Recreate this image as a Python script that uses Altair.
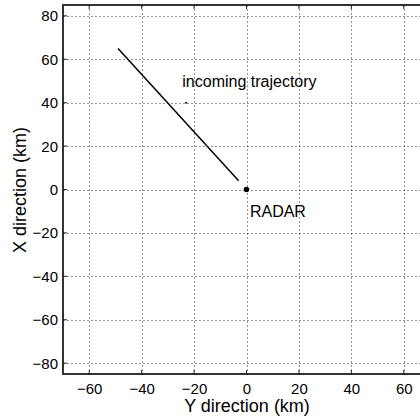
import altair as alt
import pandas as pd

# ---- data ----
traj_ydir = [-49, -3]          # horizontal axis: Y direction (km)
traj_xdir = [65, 4]            # vertical axis: X direction (km)
radar_ydir = [0]
radar_xdir = [0]
dot_ydir = [-23]
dot_xdir = [40]
label_text = ["incoming trajectory", "RADAR"]
label_ydir = [-24.5, 1.3]
label_xdir = [47.3, -12.6]
x_ticks = [-60, -40, -20, 0, 20, 40, 60]
y_ticks = [-80, -60, -40, -20, 0, 20, 40, 60, 80]
x_domain = [-70, 70]
y_domain = [-85, 85]

FONT = "Liberation Sans"
W, H = 367, 369

traj = pd.DataFrame({"ydir": traj_ydir, "xdir": traj_xdir})
radar = pd.DataFrame({"ydir": radar_ydir, "xdir": radar_xdir})
dot = pd.DataFrame({"ydir": dot_ydir, "xdir": dot_xdir})
labels = pd.DataFrame({"ydir": label_ydir, "xdir": label_xdir, "text": label_text})
xt = pd.DataFrame({"ydir": x_ticks})
yt = pd.DataFrame({"xdir": y_ticks})

xs = alt.Scale(domain=x_domain, nice=False, zero=False)
ys = alt.Scale(domain=y_domain, nice=False, zero=False)

common_axis = dict(
    grid=True, ticks=False, domain=False,
    gridColor="#000", gridDash=[1, 3], gridWidth=1, gridOpacity=0.85,
    labelFont=FONT, labelFontSize=15, labelColor="black",
    titleFont=FONT, titleFontSize=18, titleColor="black", titleFontWeight="normal",
)

xaxis = alt.Axis(values=x_ticks, title="Y direction (km)",
                 labelPadding=19, labelBaseline="alphabetic",
                 titleY=37.7, titleBaseline="alphabetic", **common_axis)
yaxis = alt.Axis(values=y_ticks, title="X direction (km)",
                 labelPadding=5.5,
                 titleX=-37.5, titleY=H / 2, titleAngle=-90, titleAlign="center",
                 titleBaseline="alphabetic", **common_axis)

X = alt.X("ydir:Q", scale=xs, axis=xaxis)
Y = alt.Y("xdir:Q", scale=ys, axis=yaxis)

line = alt.Chart(traj).mark_line(color="black", strokeWidth=1.5).encode(x=X, y=Y)
radar_pt = alt.Chart(radar).mark_point(filled=True, color="black", size=30, opacity=1).encode(x=X, y=Y)
dot_pt = alt.Chart(dot).mark_point(filled=True, color="black", size=4, opacity=1).encode(x=X, y=Y)
text = alt.Chart(labels).mark_text(align="left", baseline="alphabetic", font=FONT,
                                   fontSize=16, color="black").encode(x=X, y=Y, text="text:N")

# inward tick marks (MATLAB style)
tick_style = dict(color="#222", strokeWidth=1)
top_ticks = alt.Chart(xt).mark_rule(**tick_style).encode(x=X, y=alt.value(0), y2=alt.value(4))
bot_ticks = alt.Chart(xt).mark_rule(**tick_style).encode(x=X, y=alt.value(H - 4), y2=alt.value(H))
left_ticks = alt.Chart(yt).mark_rule(**tick_style).encode(y=Y, x=alt.value(0), x2=alt.value(4))

chart = alt.layer(line, radar_pt, dot_pt, text, top_ticks, bot_ticks, left_ticks).properties(
    width=W, height=H,
    autosize=alt.AutoSizeParams(type="none"),
    padding={"left": 63, "top": 5, "right": -10, "bottom": 43},
    background="white",
).configure_view(stroke="#333", strokeWidth=2)

chart.save("out.html", embed_options={"renderer": "svg", "actions": False})
